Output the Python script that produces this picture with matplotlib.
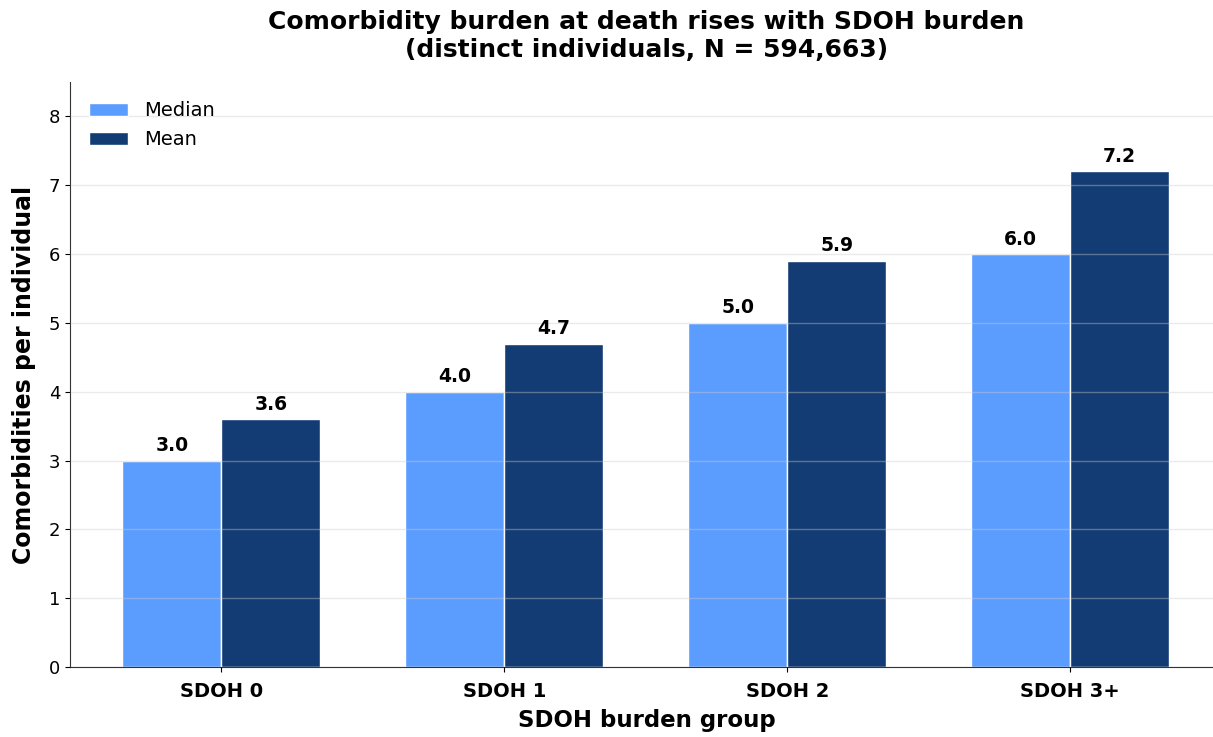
import matplotlib
matplotlib.use("Agg")
import matplotlib.pyplot as plt
import numpy as np

groups = ["SDOH 0", "SDOH 1", "SDOH 2", "SDOH 3+"]
median_vals = [3.0, 4.0, 5.0, 6.0]
mean_vals = [3.6, 4.7, 5.9, 7.2]

fig = plt.figure(figsize=(12.13, 7.37), dpi=100)
ax = fig.add_axes([70 / 1213, (737 - 667) / 737, (1223 - 70) / 1213, (667 - 82) / 737])

x = np.arange(len(groups))
w = 0.35
b1 = ax.bar(x - w / 2, median_vals, w, color="#5B9DFF", edgecolor="white", linewidth=1, label="Median")
b2 = ax.bar(x + w / 2, mean_vals, w, color="#133C74", edgecolor="white", linewidth=1, label="Mean")

for bars, vals in ((b1, median_vals), (b2, mean_vals)):
    for r, v in zip(bars, vals):
        ax.text(r.get_x() + r.get_width() / 2, v + 0.08, f"{v:.1f}", ha="center", va="bottom",
                fontsize=13.5, fontweight="bold")

ax.set_xlim(-0.535, 3.54)
ax.set_ylim(0, 8.5)
ax.set_yticks(range(0, 9))
ax.tick_params(axis="y", labelsize=13)
ax.tick_params(axis="x", pad=7)
ax.set_xticks(x)
ax.set_xticklabels(groups, fontsize=14, fontweight="bold")
ax.grid(axis="y", color="#cccccc", alpha=0.4, linewidth=1)
ax.set_axisbelow(False)
for s in ("top", "right"):
    ax.spines[s].set_visible(False)
for s in ("left", "bottom"):
    ax.spines[s].set_color("#333333")

ax.set_xlabel("SDOH burden group", fontsize=16.5, fontweight="bold", labelpad=6)
ax.set_ylabel("Comorbidities per individual", fontsize=17, fontweight="bold", labelpad=9)
ax.set_title("Comorbidity burden at death rises with SDOH burden\n(distinct individuals, N = 594,663)",
             fontsize=18, fontweight="bold", pad=18)
ax.legend(loc="upper left", frameon=False, fontsize=14, borderaxespad=0.6)

fig.savefig("out.png", dpi=100)
